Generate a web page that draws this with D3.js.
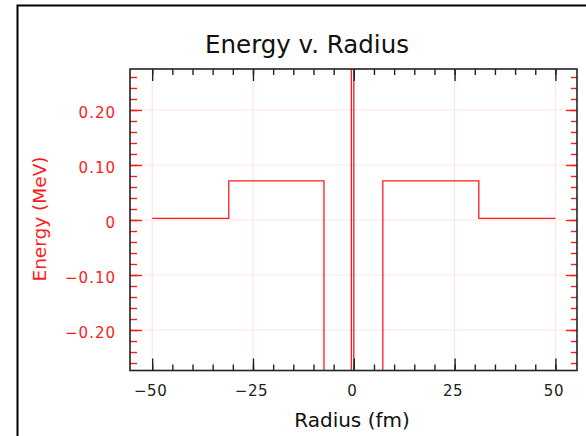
<!DOCTYPE html>
<html>
<head>
    <meta charset="UTF-8">
    <title>Energy v. Radius</title>
    <script src="https://cdnjs.cloudflare.com/ajax/libs/d3/7.8.5/d3.min.js"></script>
    <style>
        body { margin: 0; background: #fff; }
        text { font-family: "DejaVu Sans", sans-serif; }
    </style>
</head>
<body>
<svg width="586" height="436" id="chart"></svg>
<script>
// step potential: radius (fm) and energy (MeV)
var radius = [-50, -31, -31, -7.4, -7.4, -0.6, -0.6, 0, 0, 7.2, 7.2, 31, 31, 50];
var energy = [0.003, 0.003, 0.071, 0.071, -1, -1, 1, 1, -1, -1, 0.071, 0.071, 0.003, 0.003];

var xMajor = [-50, -25, 0, 25, 50];
var xLabels = ["\u221250", "\u221225", "0", "25", "50"];
var yMajor = [0.2, 0.1, 0, -0.1, -0.2];
var yLabels = ["0.20", "0.10", "0", "\u22120.10", "\u22120.20"];
var xMinor = d3.range(-50, 51, 5);
var yMinor = d3.range(-13, 14).map(function (d) { return d * 0.02; });

var svg = d3.select("#chart");
var pLeft = 130, pRight = 577, pTop = 69, pBottom = 370.5;

var x = d3.scaleLinear().domain([-55.5, 55.35]).range([pLeft, pRight]);
var y = d3.scaleLinear().domain([-0.2736, 0.2745]).range([pBottom, pTop]);

// outer frame
svg.append("rect").attr("x", 17.5).attr("y", 5.5).attr("width", 620).attr("height", 500)
    .attr("fill", "none").attr("stroke", "#000").attr("stroke-width", 2);

svg.append("defs").append("clipPath").attr("id", "plot")
    .append("rect").attr("x", pLeft).attr("y", pTop).attr("width", pRight - pLeft).attr("height", pBottom - pTop);

// grid
var grid = svg.append("g").attr("stroke", "#ffe3e3").attr("stroke-width", 1.2);
grid.selectAll(".gx").data(xMajor).enter().append("line")
    .attr("x1", function (d) { return x(d); }).attr("x2", function (d) { return x(d); })
    .attr("y1", pTop).attr("y2", pBottom);
grid.selectAll(".gy").data(yMajor).enter().append("line")
    .attr("y1", function (d) { return y(d); }).attr("y2", function (d) { return y(d); })
    .attr("x1", pLeft).attr("x2", pRight);

// data
var line = d3.line().x(function (d) { return x(d[0]); }).y(function (d) { return y(d[1]); });
svg.append("path").datum(d3.zip(radius, energy))
    .attr("clip-path", "url(#plot)")
    .attr("d", line).attr("fill", "none").attr("stroke", "#ff1a1a").attr("stroke-width", 1.3);

function styleAxis(g, color) {
    g.select(".domain").remove();
    g.selectAll("line").attr("stroke", color).attr("stroke-width", 1.4);
    g.selectAll("text").attr("font-size", 15).attr("fill", color).attr("font-family", "DejaVu Sans")
        .attr("letter-spacing", "0.6px");
}

// x axes (bottom with labels, top ticks only)
var gxb = svg.append("g").attr("transform", "translate(0," + pBottom + ")")
    .call(d3.axisBottom(x).tickValues(xMinor).tickSize(-6).tickFormat(""));
styleAxis(gxb, "#222");
var gxB = svg.append("g").attr("transform", "translate(0," + pBottom + ")")
    .call(d3.axisBottom(x).tickValues(xMajor).tickSize(-12).tickPadding(15)
        .tickFormat(function (d, i) { return xLabels[i]; }));
styleAxis(gxB, "#222");
gxB.selectAll("text").attr("dx", "-2");
var gxt = svg.append("g").attr("transform", "translate(0," + pTop + ")")
    .call(d3.axisTop(x).tickValues(xMinor).tickSize(-6).tickFormat(""));
styleAxis(gxt, "#222");
var gxT = svg.append("g").attr("transform", "translate(0," + pTop + ")")
    .call(d3.axisTop(x).tickValues(xMajor).tickSize(-12).tickFormat(""));
styleAxis(gxT, "#222");

// y axes (left with labels, right ticks only)
var gyl = svg.append("g").attr("transform", "translate(" + pLeft + ",0)")
    .call(d3.axisLeft(y).tickValues(yMinor).tickSize(-7).tickFormat(""));
styleAxis(gyl, "#ff1a1a");
var gyL = svg.append("g").attr("transform", "translate(" + pLeft + ",0)")
    .call(d3.axisLeft(y).tickValues(yMajor).tickSize(-12).tickPadding(14)
        .tickFormat(function (d, i) { return yLabels[i]; }));
styleAxis(gyL, "#ff1a1a");
gyL.selectAll("text").attr("dy", "0.5em").attr("letter-spacing", "1px");
var gyr = svg.append("g").attr("transform", "translate(" + pRight + ",0)")
    .call(d3.axisRight(y).tickValues(yMinor).tickSize(-6).tickFormat(""));
styleAxis(gyr, "#ff1a1a");
var gyR = svg.append("g").attr("transform", "translate(" + pRight + ",0)")
    .call(d3.axisRight(y).tickValues(yMajor).tickSize(-11).tickFormat(""));
styleAxis(gyR, "#ff1a1a");

// plot box
svg.append("rect").attr("x", pLeft).attr("y", pTop).attr("width", pRight - pLeft).attr("height", pBottom - pTop)
    .attr("fill", "none").attr("stroke", "#222").attr("stroke-width", 1.6);

// titles
svg.append("text").attr("x", 307).attr("y", 53).attr("text-anchor", "middle")
    .attr("font-size", 24.5).attr("fill", "#111").text("Energy v. Radius");
svg.append("text").attr("x", 352).attr("y", 427).attr("text-anchor", "middle")
    .attr("font-size", 20).attr("fill", "#111").text("Radius (fm)");
svg.append("text").attr("transform", "translate(46,219) rotate(-90)").attr("text-anchor", "middle")
    .attr("font-size", 18.5).attr("fill", "#ff1a1a").text("Energy (MeV)");
</script>
</body>
</html>
